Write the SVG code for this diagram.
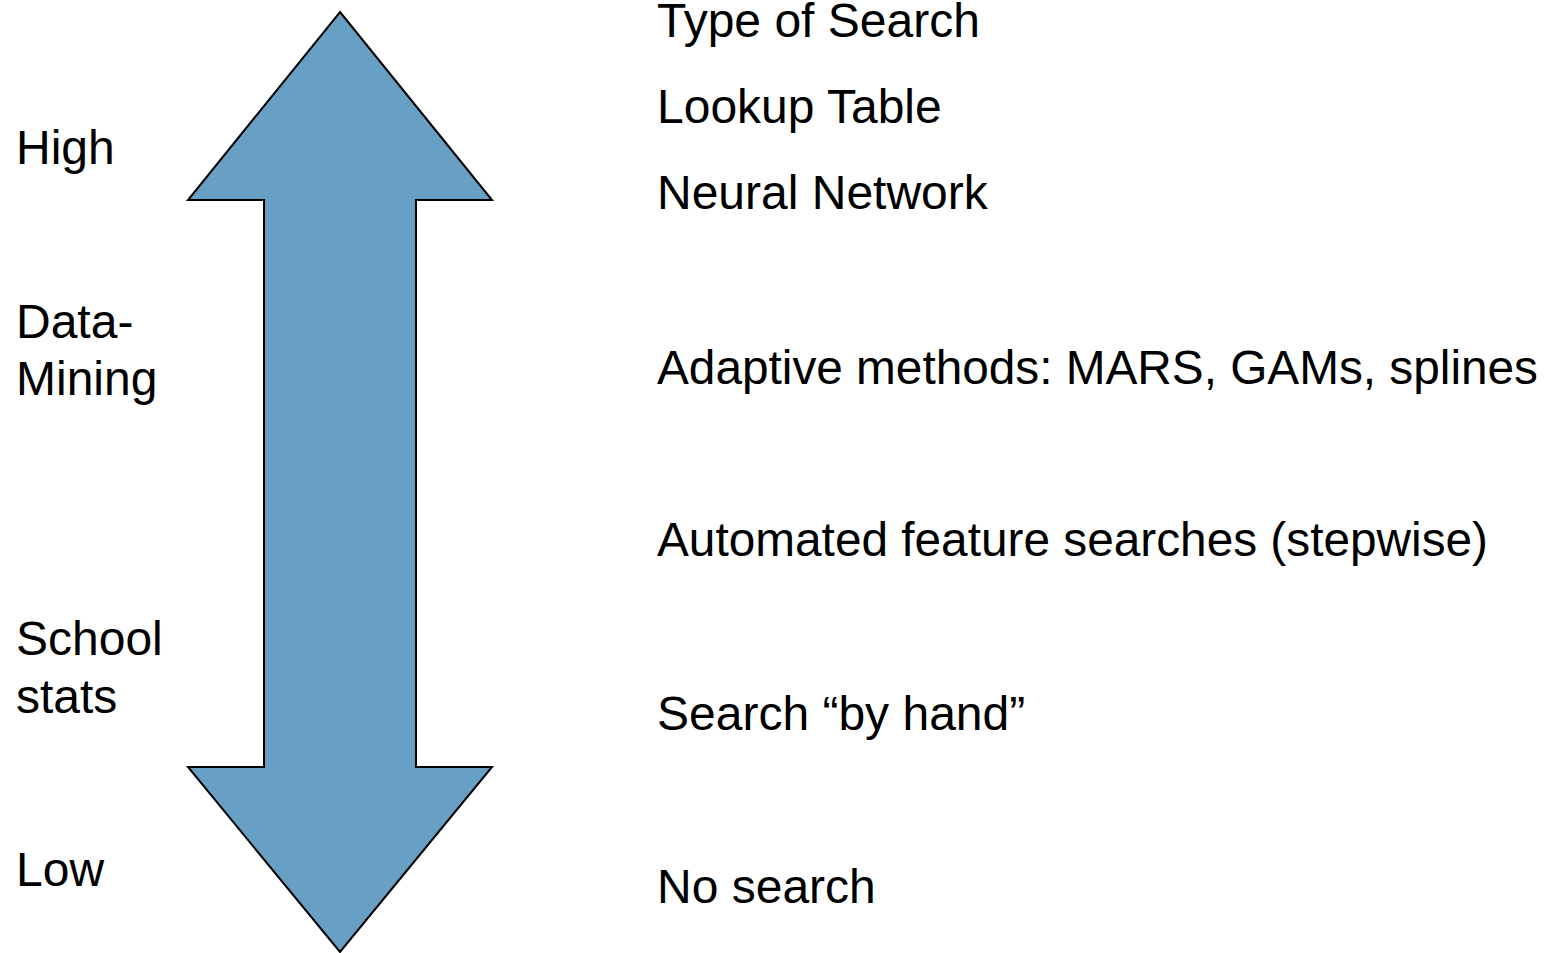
<svg xmlns="http://www.w3.org/2000/svg" width="1549" height="953" viewBox="0 0 1549 953">
  <style>
    text { font-family: "Liberation Sans", Arial, sans-serif; font-size: 48px; fill: #000000; }
    .arrow { fill: #689fc4; stroke: #000000; stroke-width: 2; stroke-linejoin: miter; }
  </style>
  <rect width="1549" height="953" fill="#ffffff"/>

  <!-- double-headed vertical arrow -->
  <g id="scale-arrow">
    <polygon class="arrow" points="340,12 492,200 416,200 416,767 492,767 340,952 188,767 264,767 264,200 188,200"/>
  </g>

  <!-- level labels on the left -->
  <g id="level-high"><text x="16" y="164">High</text></g>
  <g id="level-datamining"><text x="16" y="338">Data-</text><text x="16" y="395">Mining</text></g>
  <g id="level-school"><text x="16" y="655">School</text><text x="16" y="713">stats</text></g>
  <g id="level-low"><text x="16" y="886">Low</text></g>

  <!-- search types on the right -->
  <g id="heading"><text x="657" y="37">Type of Search</text></g>
  <g id="lookup"><text x="657" y="123">Lookup Table</text></g>
  <g id="neural"><text x="657" y="209">Neural Network</text></g>
  <g id="adaptive"><text x="657" y="384" textLength="881" lengthAdjust="spacingAndGlyphs">Adaptive methods: MARS, GAMs, splines</text></g>
  <g id="automated"><text x="657" y="556" textLength="831" lengthAdjust="spacingAndGlyphs">Automated feature searches (stepwise)</text></g>
  <g id="byhand"><text x="657" y="730">Search “by hand”</text></g>
  <g id="nosearch"><text x="657" y="903">No search</text></g>

  <g id="connectors"/>
</svg>
